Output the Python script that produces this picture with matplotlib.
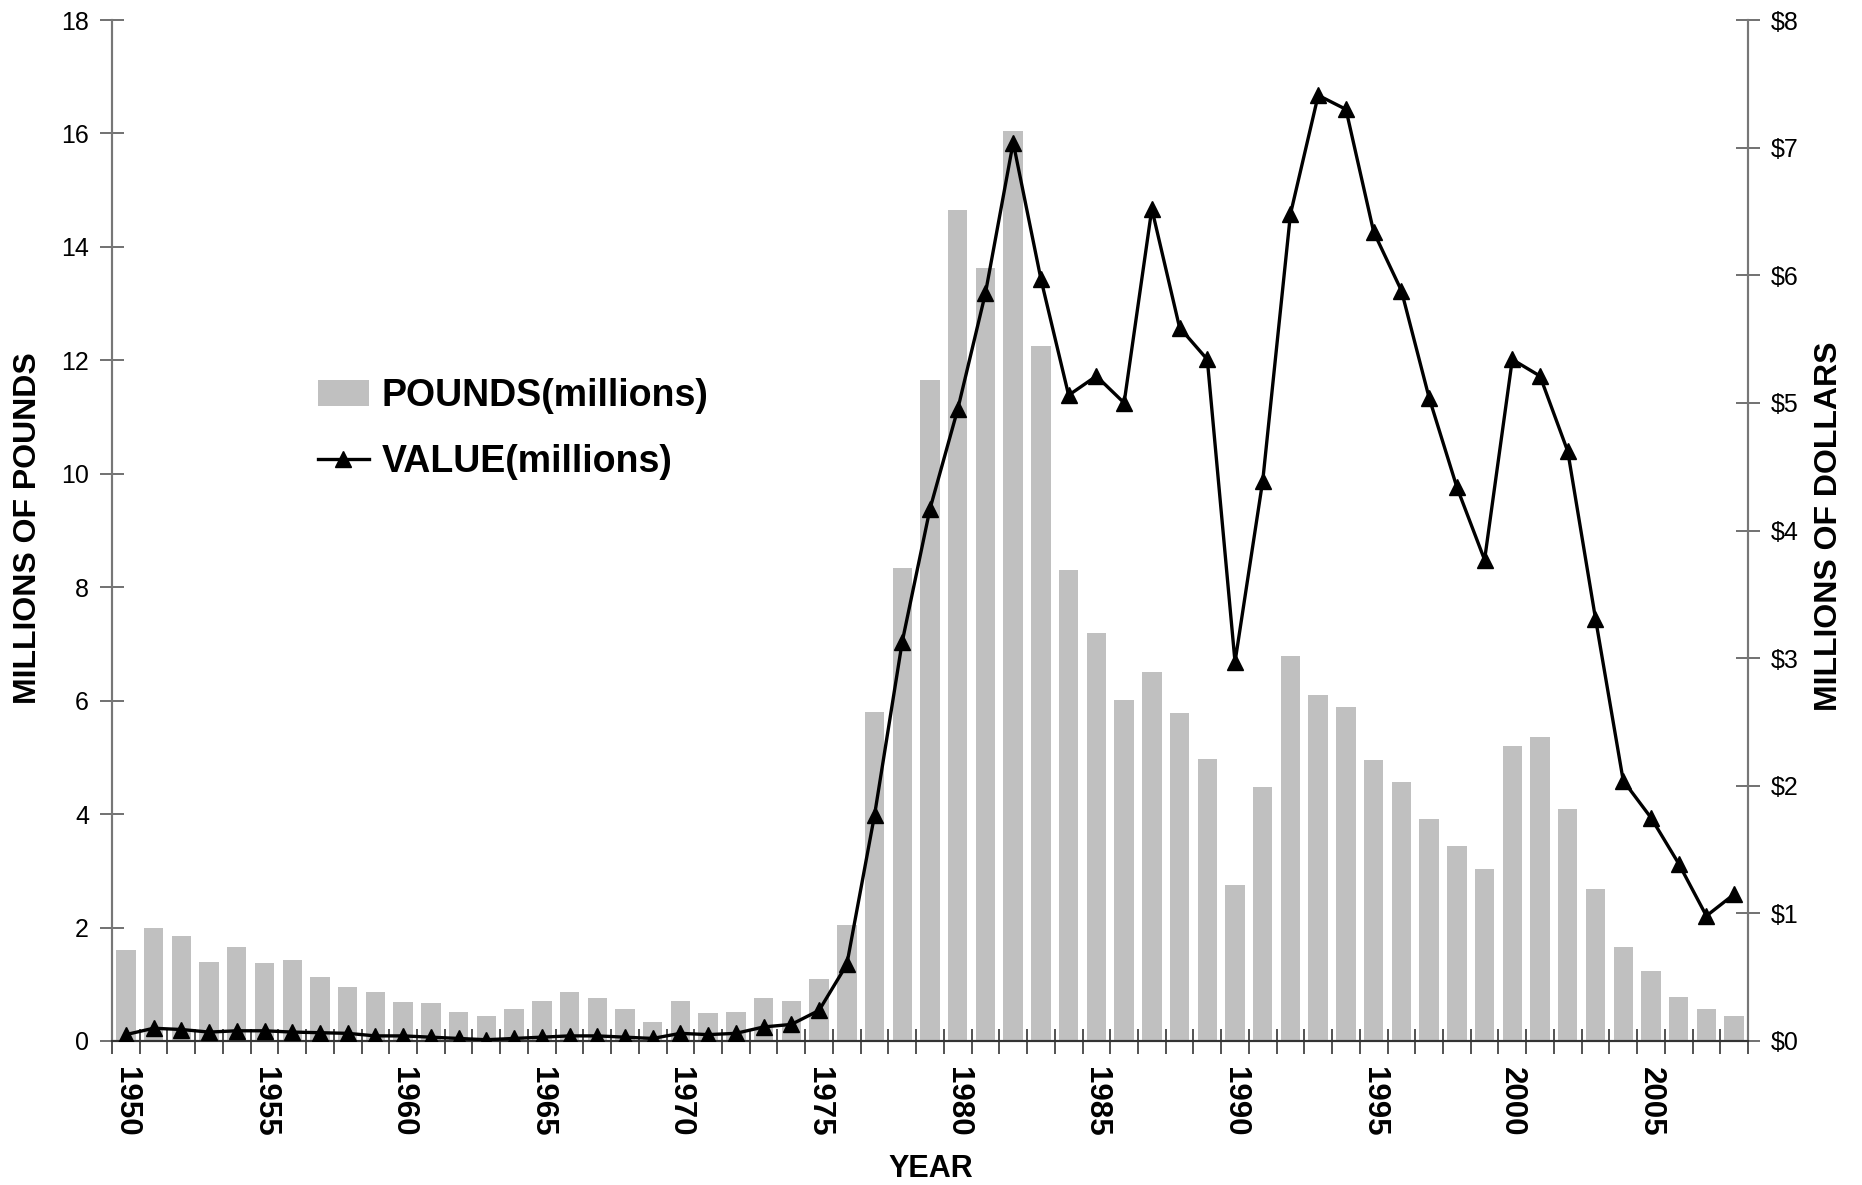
import matplotlib
matplotlib.use("Agg")
import matplotlib.pyplot as plt
import numpy as np

plt.rcParams['font.family'] = ['Liberation Sans', 'DejaVu Sans']

years = list(range(1950, 2009))
pounds = [1.6, 2.0, 1.85, 1.4, 1.65, 1.38, 1.43, 1.12, 0.96, 0.86,
          0.69, 0.67, 0.52, 0.44, 0.57, 0.71, 0.86, 0.75, 0.57, 0.34,
          0.71, 0.50, 0.52, 0.75, 0.71, 1.09, 2.05, 5.8, 8.34, 11.65,
          14.65, 13.62, 16.05, 12.26, 8.3, 7.19, 6.01, 6.5, 5.78, 4.97,
          2.75, 4.48, 6.79, 6.1, 5.89, 4.95, 4.57, 3.92, 3.44, 3.04,
          5.2, 5.36, 4.09, 2.68, 1.66, 1.24, 0.78, 0.57, 0.44]
value = [0.05, 0.10, 0.09, 0.07, 0.08, 0.08, 0.07, 0.065, 0.06, 0.04,
         0.04, 0.03, 0.02, 0.01, 0.02, 0.03, 0.04, 0.04, 0.03, 0.02,
         0.06, 0.05, 0.06, 0.11, 0.13, 0.24, 0.6, 1.77, 3.13, 4.17,
         4.95, 5.86, 7.04, 5.97, 5.06, 5.21, 5.0, 6.52, 5.59, 5.34,
         2.97, 4.39, 6.48, 7.41, 7.3, 6.34, 5.88, 5.04, 4.34, 3.77,
         5.34, 5.21, 4.62, 3.31, 2.04, 1.75, 1.39, 0.98, 1.15]
left_ticks = list(range(0, 19, 2))
right_ticks = list(range(0, 9))
right_labels = ['$' + str(v) for v in right_ticks]
year_labels = list(range(1950, 2006, 5))

W, H = 1862, 1185
fig = plt.figure(figsize=(W / 100, H / 100), dpi=100)
L, R, T, B = 112, 1748, 20, 1041
ax = fig.add_axes([L / W, 1 - B / H, (R - L) / W, (B - T) / H])
ax2 = ax.twinx()

bars = ax.bar(years, pounds, width=0.7, color='#c0c0c0', zorder=2,
              label='POUNDS(millions)')
line, = ax2.plot(years, value, color='black', lw=2.4, marker='^',
                 markersize=12, label='VALUE(millions)', zorder=3)

ax.set_xlim(1949.5, 2008.5)
ax.set_ylim(0, 18)
ax2.set_ylim(0, 8)

ax.set_yticks(left_ticks)
ax.set_yticklabels([str(v) for v in left_ticks], fontsize=18)
ax2.set_yticks(right_ticks)
ax2.set_yticklabels(right_labels, fontsize=18)

ax.set_xticks(year_labels)
ax.set_xticklabels([str(y) for y in year_labels], rotation=-90,
                   fontsize=22.5, fontweight='bold', va='top', ha='center')
ax.set_xticks(np.arange(1949.5, 2009, 1), minor=True)
ax.tick_params(axis='x', which='major', length=0, pad=19)
ax.tick_params(axis='x', which='minor', length=18, direction='inout',
               width=1.3, color='#444444')
ax.tick_params(axis='y', length=17, direction='inout', pad=8,
               width=1.3, color='#666666')
ax2.tick_params(axis='y', length=17, direction='inout', pad=8,
                width=1.3, color='#666666')

for a in (ax, ax2):
    a.spines['top'].set_visible(False)
    a.spines['left'].set_color('#777777')
    a.spines['right'].set_color('#777777')
    a.spines['bottom'].set_color('#333333')
    for s in a.spines.values():
        s.set_linewidth(1.5)

fig.text(28 / W, 1 - 528 / H, 'MILLIONS OF POUNDS', rotation=90,
         ha='center', va='center', fontsize=23, fontweight='bold')
fig.text(1829 / W, 1 - 526 / H, 'MILLIONS OF DOLLARS', rotation=90,
         ha='center', va='center', fontsize=23, fontweight='bold')
fig.text(931 / W, 1 - 1169 / H, 'YEAR', ha='center', va='center',
         fontsize=22, fontweight='bold')

leg = fig.legend([bars, line], ['POUNDS(millions)', 'VALUE(millions)'],
                 loc='upper left', bbox_to_anchor=(318 / W, 1 - 378 / H),
                 frameon=False, borderpad=0, borderaxespad=0,
                 handlelength=1.35, handletextpad=0.35, labelspacing=0.8,
                 prop={'size': 27, 'weight': 'bold'}, numpoints=1)

fig.savefig('out.png', dpi=100)
